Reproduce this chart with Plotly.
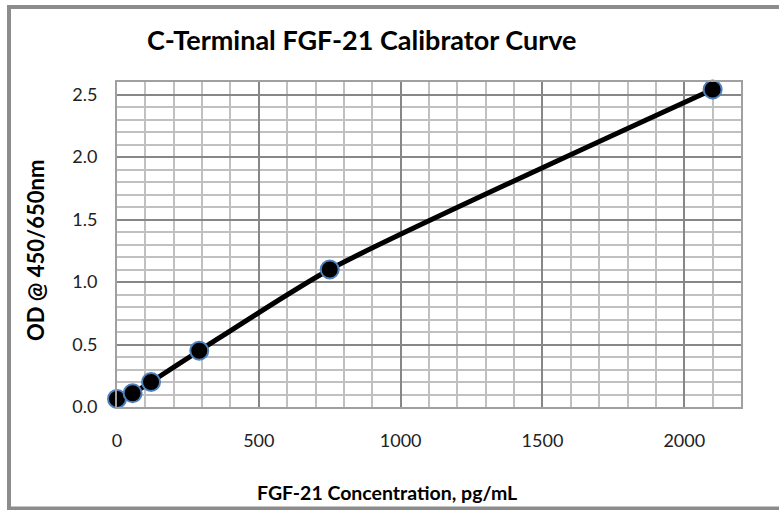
import plotly.graph_objects as go

# Data
concentration = [0, 55, 120, 290, 750, 2100]
od = [0.065, 0.11, 0.20, 0.45, 1.10, 2.54]

title_text = "C-Terminal FGF-21 Calibrator Curve"
x_title = "FGF-21 Concentration, pg/mL"
y_title = "OD @ 450/650nm"

FONT = "Lato"
W, H = 779, 510
L, R, T, B = 117, 38, 82, 103
pw = W - L - R
ph = H - T - B

fig = go.Figure()
fig.add_trace(go.Scatter(
    x=concentration, y=od, mode="lines+markers",
    line=dict(color="black", width=5, shape="spline", smoothing=0.6),
    marker=dict(size=18, color="black", line=dict(color="#4f81bd", width=2)),
    showlegend=False, cliponaxis=False,
))

def px2paper_x(px):
    return (px - L) / pw

def px2paper_y(py):
    return (H - B - py) / ph

fig.update_layout(
    width=W, height=H,
    margin=dict(l=L, r=R, t=T, b=B),
    paper_bgcolor="white", plot_bgcolor="white",
    font=dict(family=FONT, color="black"),
    xaxis=dict(
        range=[0, 2200], dtick=500, tick0=0,
        showgrid=True, gridcolor="#878787", gridwidth=2,
        minor=dict(dtick=100, showgrid=True, gridcolor="#c0c0c0", gridwidth=2),
        showline=True, linecolor="#a0a0a0", linewidth=2, mirror=True,
        zeroline=False, ticks="", ticklabelstandoff=16,
        tickfont=dict(size=18, family=FONT, color="#222"),
    ),
    yaxis=dict(
        range=[0, 2.6], dtick=0.5, tick0=0, tickformat=".1f",
        showgrid=True, gridcolor="#878787", gridwidth=2,
        minor=dict(dtick=0.1, showgrid=True, gridcolor="#c0c0c0", gridwidth=2),
        showline=True, linecolor="#a0a0a0", linewidth=2, mirror=True,
        zeroline=False, ticks="", ticklabelstandoff=14,
        tickfont=dict(size=18, family=FONT, color="#222"),
    ),
    annotations=[
        dict(text="<b>" + title_text + "</b>", xref="paper", yref="paper",
             x=px2paper_x(362), y=px2paper_y(40), xanchor="center", yanchor="middle",
             showarrow=False, font=dict(size=27, family=FONT, color="black")),
        dict(text="<b>" + x_title + "</b>", xref="paper", yref="paper",
             x=px2paper_x(387), y=px2paper_y(492), xanchor="center", yanchor="middle",
             showarrow=False, font=dict(size=19.5, family=FONT, color="black")),
        dict(text="<b>" + y_title + "</b>", xref="paper", yref="paper",
             x=px2paper_x(35), y=px2paper_y(251), xanchor="center", yanchor="middle",
             textangle=-90, showarrow=False, font=dict(size=22, family=FONT, color="black")),
    ],
    shapes=[
        dict(type="rect", xref="paper", yref="paper",
             x0=px2paper_x(9), x1=px2paper_x(800), y0=px2paper_y(508.5), y1=px2paper_y(7),
             line=dict(color="#8c8c8c", width=4), fillcolor="rgba(0,0,0,0)", layer="below"),
    ],
)

fig.write_html(
    "out.html",
    config={"displayModeBar": False},
    post_script="document.body.style.margin='0';document.body.style.overflow='hidden';",
)
